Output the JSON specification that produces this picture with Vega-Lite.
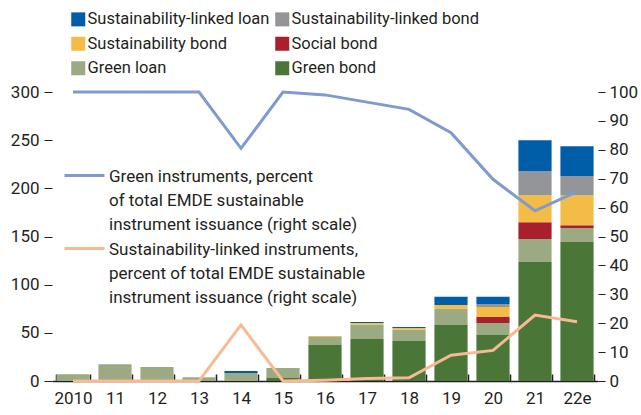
{
  "$schema": "https://vega.github.io/schema/vega-lite/v6.json",
  "autosize": {"type": "none"},
  "padding": {"left": 52, "top": 92, "right": 43, "bottom": 34},
  "width": 546,
  "height": 289,
  "config": {
    "view": {"stroke": null},
    "font": "Roboto",
    "style": {"guide-label": {"lineHeight": 24}},
    "axis": {"labelFont": "Roboto", "labelFontSize": 17, "labelColor": "#231F20", "tickColor": "#231F20", "domainColor": "#231F20", "grid": false, "title": null},
    "legend": {"labelFont": "Roboto", "labelFontSize": 17, "labelColor": "#231F20", "labelLimit": 400}
  },
  "datasets": {
    "bars": [
      {"year": "2010", "type": "Green loan", "value": 7},
      {"year": "11", "type": "Green loan", "value": 17.5},
      {"year": "12", "type": "Green loan", "value": 14.5},
      {"year": "13", "type": "Green loan", "value": 4},
      {"year": "14", "type": "Green loan", "value": 8.3},
      {"year": "14", "type": "Sustainability-linked loan", "value": 2},
      {"year": "15", "type": "Green bond", "value": 3},
      {"year": "15", "type": "Green loan", "value": 10.5},
      {"year": "16", "type": "Green bond", "value": 37.3},
      {"year": "16", "type": "Green loan", "value": 8.3},
      {"year": "16", "type": "Sustainability bond", "value": 1},
      {"year": "17", "type": "Green bond", "value": 43.6},
      {"year": "17", "type": "Green loan", "value": 14.8},
      {"year": "17", "type": "Sustainability bond", "value": 1.8},
      {"year": "17", "type": "Sustainability-linked loan", "value": 1},
      {"year": "18", "type": "Green bond", "value": 41.5},
      {"year": "18", "type": "Green loan", "value": 11.7},
      {"year": "18", "type": "Sustainability bond", "value": 1.8},
      {"year": "18", "type": "Sustainability-linked loan", "value": 1},
      {"year": "19", "type": "Green bond", "value": 58.1},
      {"year": "19", "type": "Green loan", "value": 16.6},
      {"year": "19", "type": "Social bond", "value": 0.3},
      {"year": "19", "type": "Sustainability bond", "value": 3.8},
      {"year": "19", "type": "Sustainability-linked loan", "value": 8.6},
      {"year": "20", "type": "Green bond", "value": 47.7},
      {"year": "20", "type": "Green loan", "value": 12.5},
      {"year": "20", "type": "Social bond", "value": 6.2},
      {"year": "20", "type": "Sustainability bond", "value": 10.4},
      {"year": "20", "type": "Sustainability-linked bond", "value": 3.1},
      {"year": "20", "type": "Sustainability-linked loan", "value": 7.5},
      {"year": "21", "type": "Green bond", "value": 123.4},
      {"year": "21", "type": "Green loan", "value": 23.9},
      {"year": "21", "type": "Social bond", "value": 17.6},
      {"year": "21", "type": "Sustainability bond", "value": 28},
      {"year": "21", "type": "Sustainability-linked bond", "value": 24.9},
      {"year": "21", "type": "Sustainability-linked loan", "value": 32.2},
      {"year": "22e", "type": "Green bond", "value": 144.2},
      {"year": "22e", "type": "Green loan", "value": 14.5},
      {"year": "22e", "type": "Social bond", "value": 3.1},
      {"year": "22e", "type": "Sustainability bond", "value": 31.1},
      {"year": "22e", "type": "Sustainability-linked bond", "value": 19.8},
      {"year": "22e", "type": "Sustainability-linked loan", "value": 31.1}
    ],
    "lines": [
      {"year": "2010", "series": "G", "pct": 100},
      {"year": "11", "series": "G", "pct": 100},
      {"year": "12", "series": "G", "pct": 100},
      {"year": "13", "series": "G", "pct": 100},
      {"year": "14", "series": "G", "pct": 80.5},
      {"year": "15", "series": "G", "pct": 100},
      {"year": "16", "series": "G", "pct": 99},
      {"year": "17", "series": "G", "pct": 96.5},
      {"year": "18", "series": "G", "pct": 94},
      {"year": "19", "series": "G", "pct": 85.9},
      {"year": "20", "series": "G", "pct": 69.8},
      {"year": "21", "series": "G", "pct": 58.9},
      {"year": "22e", "series": "G", "pct": 65.5},
      {"year": "2010", "series": "S", "pct": 0},
      {"year": "11", "series": "S", "pct": 0},
      {"year": "12", "series": "S", "pct": 0},
      {"year": "13", "series": "S", "pct": 0},
      {"year": "14", "series": "S", "pct": 19.4},
      {"year": "15", "series": "S", "pct": 0},
      {"year": "16", "series": "S", "pct": 0.3},
      {"year": "17", "series": "S", "pct": 0.9},
      {"year": "18", "series": "S", "pct": 1.1},
      {"year": "19", "series": "S", "pct": 8.9},
      {"year": "20", "series": "S", "pct": 10.6},
      {"year": "21", "series": "S", "pct": 22.8},
      {"year": "22e", "series": "S", "pct": 20.5}
    ]
  },
  "encoding": {
    "x": {
      "field": "year", "type": "nominal", "sort": null,
      "scale": {"paddingInner": 0.21, "paddingOuter": 0.105},
      "axis": {"labelAngle": 0, "tickBand": "extent", "tickSize": -7, "labelPadding": 16, "domainWidth": 1.5, "tickWidth": 1.5}
    }
  },
  "layer": [
    {
      "data": {"name": "bars"},
      "mark": {"type": "bar"},
      "encoding": {
        "y": {
          "field": "value", "type": "quantitative", "aggregate": "sum",
          "scale": {"domain": [0, 300]},
          "axis": {"orient": "left", "values": [0, 50, 100, 150, 200, 250, 300], "domain": false, "tickSize": 8, "labelPadding": 5}
        },
        "color": {
          "field": "type", "type": "nominal",
          "scale": {
            "domain": ["Sustainability-linked loan", "Sustainability bond", "Green loan", "Sustainability-linked bond", "Social bond", "Green bond"],
            "range": ["#005EA8", "#F3BC47", "#9BAA83", "#939598", "#AA1F2E", "#4A7637"]
          },
          "legend": {"title": null, "orient": "none", "legendX": 18, "legendY": -81, "columns": 2, "symbolType": "square", "symbolSize": 196, "symbolStrokeWidth": 0, "rowPadding": 7.5, "columnPadding": 4, "labelOffset": 1, "labelFontSize": 16.5}
        },
        "order": {"field": "type", "sort": "ascending"}
      }
    },
    {
      "data": {"name": "lines"},
      "mark": {"type": "line", "strokeWidth": 3},
      "encoding": {
        "y": {
          "field": "pct", "type": "quantitative",
          "scale": {"domain": [0, 100]},
          "axis": {"orient": "right", "values": [0, 10, 20, 30, 40, 50, 60, 70, 80, 90, 100], "domain": false, "tickSize": 7, "labelPadding": 4}
        },
        "color": {
          "field": "series", "type": "nominal",
          "scale": {"domain": ["G", "S"], "range": ["#7E9ACF", "#F8BA93"]},
          "legend": {
            "title": null, "orient": "none", "legendX": 24, "legendY": 68,
            "symbolType": "M-10,3.5H10", "symbolSize": 16, "symbolStrokeWidth": 3,
            "labelBaseline": "top", "labelOffset": 16, "rowPadding": 0,
            "labelExpr": "datum.value == 'G' ? ['Green instruments, percent', 'of total EMDE sustainable', 'instrument issuance (right scale)'] : ['Sustainability-linked instruments,', 'percent of total EMDE sustainable', 'instrument issuance (right scale)']"
          }
        }
      }
    }
  ],
  "resolve": {"scale": {"y": "independent", "color": "independent"}}
}
